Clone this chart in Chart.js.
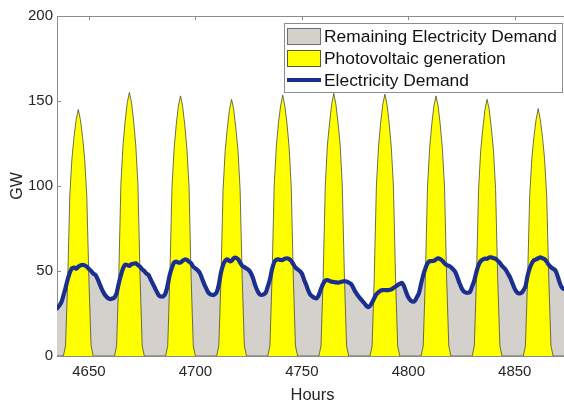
<!DOCTYPE html>
<html><head><meta charset="utf-8">
<script src="https://cdn.jsdelivr.net/npm/chart.js@4/dist/chart.umd.min.js"></script>
<style>
html,body{margin:0;padding:0;overflow:hidden;background:#fff;width:564px;height:404px}
#wrap{width:574px;height:404px}
</style>
</head><body><div id="wrap"><canvas id="c" width="574" height="404"></canvas></div>
<script>
// ---- data (hourly, starting at hour 4635) ----
const startHour = 4635;
const xTickValues = [4650, 4700, 4750, 4800, 4850];
const yTickValues = [0, 50, 100, 150, 200];
const seriesLabels = ['Remaining Electricity Demand', 'Photovoltaic generation', 'Electricity Demand'];

const pvGeneration = [
  0,0,0,0,6,43,94,116,129,139,145,139,129,116,94,44,6,0,0,0,0,0,0,0,
  0,0,0,0,6,46,101,124,138,149,155,149,138,124,101,47,6,0,0,0,0,0,0,0,
  0,0,0,0,6,46,99,122,136,147,153,147,136,122,100,46,6,0,0,0,0,0,0,0,
  0,0,0,0,6,45,98,121,134,145,151,145,134,121,98,45,6,0,0,0,0,0,0,0,
  0,0,0,0,6,46,100,123,137,147,153.5,147,137,123,100,46,6,0,0,0,0,0,0,0,
  0,0,0,0,6,46,100,124,137,148,154.5,148,137,124,100,46,6,0,0,0,0,0,0,0,
  0,0,0,0,6,46,100,123,137,148,154,148,137,123,100,46,6,0,0,0,0,0,0,0,
  0,0,0,0,6,46,99,122,136,147,153,147,136,122,100,46,6,0,0,0,0,0,0,0,
  0,0,0,0,6,45,98,121,134,145,151,145,134,121,98,45,6,0,0,0,0,0,0,0,
  0,0,0,0,6,44,94,116,129,139,145.5,139,129,116,94,44,6,0,0,0,0,0,0,0,
  0
];

const electricityDemand = [
  28,29.5,31.5,35.5,40,45,49,51.5,52,51.3,52.5,53.3,53.6,53.3,52.5,51.2,50,48.5,47.8,45.5,42.5,39.5,37,35.2,
  34,33.5,33.8,34.5,37,42.7,47.5,51.5,53.8,53.5,53,54,54.3,54.5,53.5,52.5,51,50,48.5,47.6,45,42.5,40,37.5,
  35.5,35,35.2,37,42,48,52,55,55.5,55,55,56,56.8,56.5,55.5,54.5,52.5,51.6,50.5,49,46,42.7,40,37.5,
  36.3,35.9,36.2,37.5,42,49,53.5,56,56.9,55.8,56,57.5,57.8,57,55,53,52.3,51.5,50.6,49,46,42,38.8,36.5,
  35.9,36.2,37.2,41,45,51,55,56.7,56.8,56.5,56.5,57.2,57.5,57,56,54,52,51,50,48.5,45,42,38.5,36,
  35,34.2,34,36,39.5,42.5,44.3,44.7,44.2,43.7,43.5,43.3,43.2,43.4,43.8,44.1,43.8,43.2,42.5,40.5,38,36.2,34.5,33,
  31.5,30,28.8,29.5,31.5,34,36.3,37.5,38.5,38.8,38.8,38.8,38.8,39.2,40,40.8,41.8,42.5,43,41,37.5,34.5,32.8,32,
  32.3,34.5,37,42.5,47.5,51.5,54.5,55.8,55.8,56,56.8,57.5,57,56,54.5,53.5,53,52.3,51,49.6,46.5,43,40,38,
  37.3,37.2,37.8,41,44.5,49.5,53.5,55.8,56.8,57.3,57.2,58,58,57.5,57.2,56,54.8,53,51.8,50.2,48,45.7,42.5,39.5,
  37.5,36.8,37,38.5,40.8,47,51.5,54.5,56.3,56.8,57.5,58,57.5,57,55.5,53.5,52.3,51.3,50.5,47.5,43.5,40.5,39.5,39,
  38.5
];
// the grey area is the demand envelope, overlaid by PV
const remainingDemandArea = electricityDemand;

// ---- build library data ----
const hours = electricityDemand.map((_, i) => startHour + i);
const toPoints = arr => arr.map((v, i) => ({ x: hours[i], y: v }));

const FONT = "'Liberation Sans', Arial, Helvetica, sans-serif";
const AXIS_COLOR = '#8c8c8c';
const TEXT_COLOR = '#262626';

const framePlugin = {
  id: 'frame',
  beforeDatasetsDraw(chart) {
    const { ctx, chartArea: a, scales: { x, y } } = chart;
    ctx.save();
    ctx.strokeStyle = AXIS_COLOR;
    ctx.lineWidth = 1;
    ctx.beginPath();
    ctx.moveTo(a.left, a.top + 0.5);
    ctx.lineTo(a.right, a.top + 0.5);
    xTickValues.forEach(v => {
      const px = Math.round(x.getPixelForValue(v)) + 0.5;
      ctx.moveTo(px, a.top); ctx.lineTo(px, a.top + 4);
      ctx.moveTo(px, a.bottom); ctx.lineTo(px, a.bottom - 4);
    });
    yTickValues.forEach(v => {
      const py = Math.round(y.getPixelForValue(v)) + 0.5;
      ctx.moveTo(a.left, py); ctx.lineTo(a.left + 4, py);
    });
    ctx.stroke();
    ctx.restore();
  }
};

const legendPlugin = {
  id: 'matlabLegend',
  afterDraw(chart) {
    const ctx = chart.ctx;
    const ds = chart.data.datasets;
    ctx.save();
    const bx = 284.5, by = 23.5, bw = 278, bh = 69;
    ctx.fillStyle = '#ffffff';
    ctx.fillRect(bx, by, bw, bh);
    ctx.strokeStyle = AXIS_COLOR;
    ctx.lineWidth = 1;
    ctx.strokeRect(bx, by, bw, bh);
    const rows = [37, 59, 81];
    const sx = 287.5, sw = 33;
    // grey swatch
    ctx.fillStyle = ds[0].backgroundColor;
    ctx.fillRect(sx, rows[0] - 8.5, sw, 16);
    ctx.strokeStyle = '#6e6e6e';
    ctx.strokeRect(sx, rows[0] - 8.5, sw, 16);
    // yellow swatch
    ctx.fillStyle = ds[1].backgroundColor;
    ctx.fillRect(sx, rows[1] - 8.5, sw, 16);
    ctx.strokeStyle = '#5a5a3c';
    ctx.strokeRect(sx, rows[1] - 8.5, sw, 16);
    // line swatch
    ctx.strokeStyle = ds[2].borderColor;
    ctx.lineWidth = 4;
    ctx.beginPath();
    ctx.moveTo(sx - 0.5, rows[2] - 1);
    ctx.lineTo(sx + sw + 0.5, rows[2] - 1);
    ctx.stroke();
    ctx.fillStyle = '#111111';
    ctx.font = '17.4px ' + FONT;
    ctx.textBaseline = 'middle';
    ctx.textAlign = 'left';
    ds.forEach((d, i) => ctx.fillText(d.label, 324, rows[i]));
    ctx.restore();
  }
};

new Chart(document.getElementById('c'), {
  type: 'line',
  data: {
    datasets: [
      {
        label: seriesLabels[0],
        data: toPoints(remainingDemandArea),
        fill: 'origin',
        backgroundColor: 'rgb(212,208,203)',
        borderWidth: 0,
        borderColor: 'rgba(0,0,0,0)',
        pointRadius: 0,
        tension: 0.3,
        order: 3
      },
      {
        label: seriesLabels[1],
        data: toPoints(pvGeneration),
        fill: 'origin',
        backgroundColor: '#ffff00',
        borderColor: '#4a4a3a',
        borderWidth: 0.8,
        pointRadius: 0,
        tension: 0,
        order: 2
      },
      {
        label: seriesLabels[2],
        data: toPoints(electricityDemand),
        fill: false,
        borderColor: '#1b2f8e',
        backgroundColor: '#1b2f8e',
        borderWidth: 4.2,
        pointRadius: 0,
        tension: 0.3,
        borderJoinStyle: 'round',
        borderCapStyle: 'round',
        order: 1
      }
    ]
  },
  options: {
    responsive: false,
    animation: false,
    devicePixelRatio: 1,
    layout: { padding: { top: 16, right: 6, left: 0, bottom: 0 } },
    plugins: { legend: { display: false }, tooltip: { enabled: false } },
    scales: {
      x: {
        type: 'linear',
        min: 4635,
        max: 4875,
        afterBuildTicks: s => { s.ticks = xTickValues.map(v => ({ value: v })); },
        afterFit: s => { s.height = 48; },
        grid: { display: false, drawTicks: false },
        border: { display: true, color: AXIS_COLOR, width: 1 },
        ticks: { color: TEXT_COLOR, font: { family: FONT, size: 15 }, padding: 7, maxRotation: 0, callback: v => String(v) },
        title: { display: true, text: 'Hours', color: TEXT_COLOR, font: { family: FONT, size: 16.5 }, padding: { top: 0, bottom: -1 } }
      },
      y: {
        min: 0,
        max: 200,
        afterBuildTicks: s => { s.ticks = yTickValues.map(v => ({ value: v })); },
        afterFit: s => { s.width = 57; },
        grid: { display: false, drawTicks: false },
        border: { display: true, color: AXIS_COLOR, width: 1 },
        ticks: { color: TEXT_COLOR, font: { family: FONT, size: 15 }, padding: 4, callback: v => String(v) },
        title: { display: true, text: 'GW', color: TEXT_COLOR, font: { family: FONT, size: 16 }, padding: { top: 8, bottom: 0 } }
      }
    }
  },
  plugins: [framePlugin, legendPlugin]
});
</script>
</body></html>
